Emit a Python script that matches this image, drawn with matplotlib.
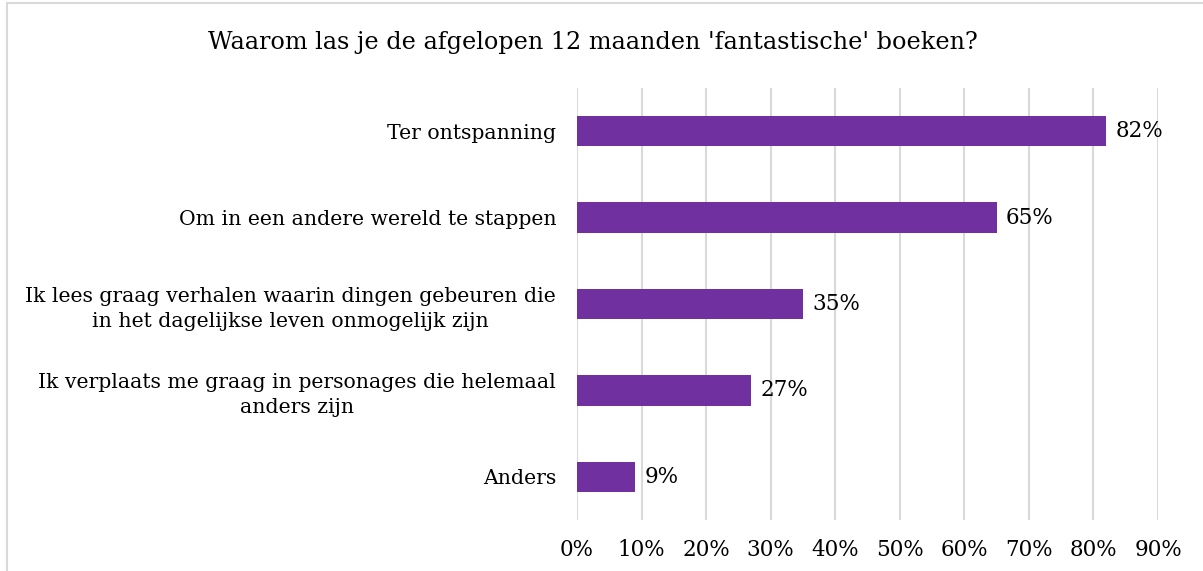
import matplotlib
matplotlib.use("Agg")
import matplotlib.pyplot as plt
from matplotlib.patches import Rectangle

# data
categories = [
    "Ter ontspanning",
    "Om in een andere wereld te stappen",
    "Ik lees graag verhalen waarin dingen gebeuren die\nin het dagelijkse leven onmogelijk zijn",
    "Ik verplaats me graag in personages die helemaal\nanders zijn",
    "Anders",
]
values = [0.82, 0.65, 0.35, 0.27, 0.09]
xticks = [0, 0.1, 0.2, 0.3, 0.4, 0.5, 0.6, 0.7, 0.8, 0.9]
title = "Waarom las je de afgelopen 12 maanden 'fantastische' boeken?"

plt.rcParams["font.family"] = ["DejaVu Serif"]

fig = plt.figure(figsize=(12.03, 5.71), dpi=100)
ax = fig.add_axes([577 / 1203, 51 / 571, 581 / 1203, 432 / 571])

# frame of the chart area
fig.patches.append(Rectangle((7 / 1203, -0.1), 1.1, (568 + 57) / 571,
                             transform=fig.transFigure, fill=False,
                             edgecolor="#D9D9D9", linewidth=1.5))

pos = list(range(len(categories)))
ax.barh(pos, values, height=0.35, color="#7030A0", zorder=3)

for p, v in zip(pos, values):
    ax.text(v + 0.014, p, f"{round(v * 100)}%", va="center", ha="left",
            fontsize=15.5, color="black")

ax.set_xlim(0, 0.9)
ax.set_ylim(4.5, -0.5)
ax.set_xticks(xticks)
ax.set_xticklabels([f"{round(t * 100)}%" for t in xticks], fontsize=15.5)
ax.set_yticks(pos)
ax.set_yticklabels(categories, fontsize=14.7, multialignment="center",
                   linespacing=1.4)
ax.tick_params(axis="both", length=0, colors="black")
ax.tick_params(axis="x", pad=14)
ax.tick_params(axis="y", pad=15)

ax.grid(axis="x", color="#D9D9D9", linewidth=1.5, zorder=0)
for s in ax.spines.values():
    s.set_visible(False)

fig.text(593 / 1203, 1 - 42 / 571, title, ha="center", va="center", fontsize=17.2)

fig.savefig("out.png", dpi=100)
